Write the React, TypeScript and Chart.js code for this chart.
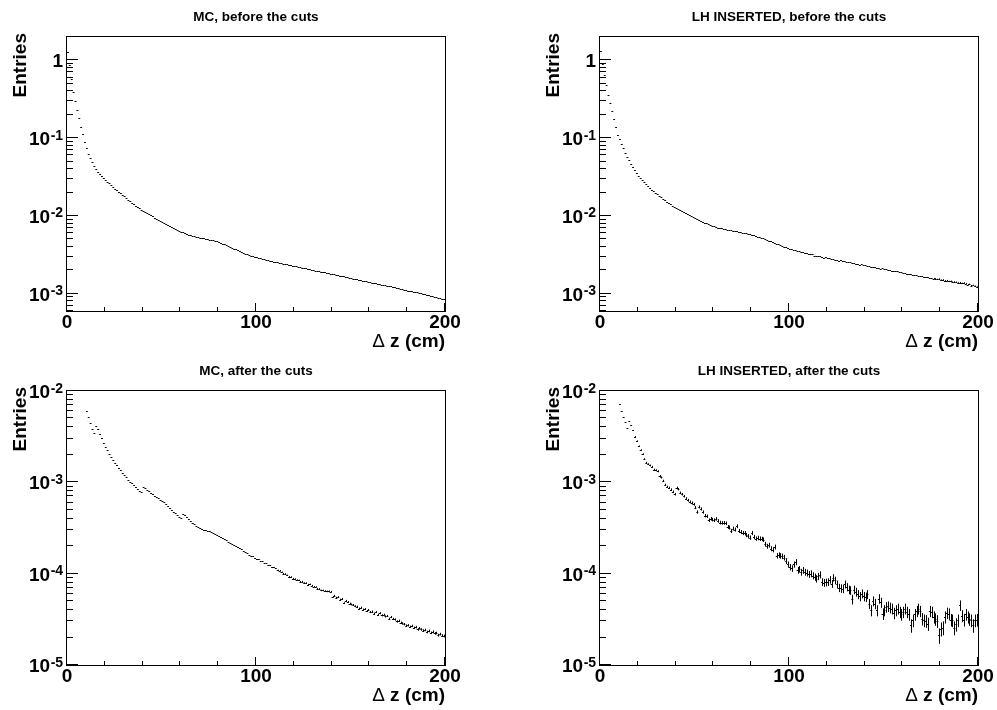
import React, { useEffect, useRef } from "react";
import { Chart, registerables } from "chart.js";

Chart.register(...registerables);

// ---------------- data ----------------
const X_MIN_CM = 0;
const X_MAX_CM = 200;
const BIN_WIDTH_CM = 1;
const X_MINOR_STEP = 20;
const X_MAJOR_STEP = 100;
const X_TICK_VALUES = [0, 100, 200];
const X_TICK_LABELS = ["0", "100", "200"];
const X_TITLE_SYMBOL = "\u0394";
const X_TITLE_REST = " z (cm)";
const Y_TITLE = "Entries";

const TITLES = [
  "MC, before the cuts",
  "LH INSERTED, before the cuts",
  "MC, after the cuts",
  "LH INSERTED, after the cuts",
];

const Y_RANGE_BEFORE = [6e-4, 2];
const Y_RANGE_AFTER = [1e-5, 1e-2];
const Y_DECADES_BEFORE = [0, -1, -2, -3];
const Y_DECADES_AFTER = [-2, -3, -4, -5];

// weight of one entry (sets the size of the statistical error bars)
const ENTRY_WEIGHT = [1e-8, 5e-7, 2.5e-8, 7.7e-7];

// one value per 1 cm bin, bins 0..199
const mcBefore = [
  1.30, 0.87, 0.569, 0.398, 0.302, 0.232, 0.180, 0.141, 0.112, 0.0902,
  0.0741, 0.0631, 0.0550, 0.0490, 0.0442, 0.0403, 0.0372, 0.0347, 0.0325, 0.0307,
  0.0290, 0.0275, 0.0262, 0.0249, 0.0237, 0.0225, 0.0215, 0.0205, 0.0195, 0.0186,
  0.0178, 0.0170, 0.0162, 0.0155, 0.0148, 0.0141, 0.0136, 0.0130, 0.0125, 0.0120,
  0.0116, 0.0112, 0.0109, 0.0105, 0.0102, 0.00985, 0.00955, 0.00927, 0.00899, 0.00872,
  0.00846, 0.00819, 0.00793, 0.00768, 0.00743, 0.00719, 0.00700, 0.00681, 0.00663, 0.00645,
  0.00628, 0.00615, 0.00602, 0.00589, 0.00577, 0.00565, 0.00557, 0.00549, 0.00542, 0.00534,
  0.00527, 0.00521, 0.00515, 0.00509, 0.00503, 0.00498, 0.00491, 0.00484, 0.00478, 0.00471,
  0.00465, 0.00453, 0.00442, 0.00431, 0.00420, 0.00410, 0.00400, 0.00390, 0.00380, 0.00371,
  0.00361, 0.00353, 0.00345, 0.00337, 0.00329, 0.00322, 0.00316, 0.00310, 0.00305, 0.00299,
  0.00294, 0.00289, 0.00285, 0.00280, 0.00276, 0.00271, 0.00268, 0.00265, 0.00262, 0.00259,
  0.00256, 0.00253, 0.00250, 0.00247, 0.00244, 0.00241, 0.00238, 0.00235, 0.00233, 0.00230,
  0.00227, 0.00225, 0.00222, 0.00219, 0.00217, 0.00214, 0.00212, 0.00209, 0.00207, 0.00204,
  0.00202, 0.00199, 0.00197, 0.00195, 0.00192, 0.00190, 0.00188, 0.00186, 0.00183, 0.00181,
  0.00179, 0.00177, 0.00175, 0.00173, 0.00171, 0.00169, 0.00167, 0.00165, 0.00163, 0.00161,
  0.00159, 0.00157, 0.00155, 0.00153, 0.00151, 0.00150, 0.00148, 0.00146, 0.00144, 0.00143,
  0.00141, 0.00139, 0.00138, 0.00136, 0.00134, 0.00133, 0.00131, 0.00130, 0.00128, 0.00127,
  0.00125, 0.00124, 0.00122, 0.00121, 0.00119, 0.00118, 0.00116, 0.00115, 0.00113, 0.00112,
  0.00110, 0.00109, 0.00108, 0.00106, 0.00105, 0.00104, 0.00102, 0.00101, 0.00100, 0.000985,
  0.000972, 0.000958, 0.000944, 0.000930, 0.000916, 0.000902, 0.000890, 0.000878, 0.000866, 0.000855,
];

const lhBefore = [
  1.32, 0.89, 0.645, 0.479, 0.363, 0.285, 0.226, 0.176, 0.138, 0.110,
  0.0966, 0.0841, 0.0738, 0.0652, 0.0579, 0.0519, 0.0468, 0.0425, 0.0388, 0.0357,
  0.0331, 0.0308, 0.0288, 0.0271, 0.0256, 0.0242, 0.0230, 0.0218, 0.0208, 0.0199,
  0.0190, 0.0182, 0.0174, 0.0167, 0.0160, 0.0153, 0.0148, 0.0142, 0.0136, 0.0132,
  0.0127, 0.0123, 0.0119, 0.0115, 0.0112, 0.0109, 0.0105, 0.0102, 0.00993, 0.00964,
  0.00935, 0.00908, 0.00881, 0.00861, 0.00841, 0.00820, 0.00802, 0.00783, 0.00766, 0.00748,
  0.00735, 0.00712, 0.00709, 0.00694, 0.00693, 0.00680, 0.00679, 0.00662, 0.00661, 0.00655,
  0.00641, 0.00640, 0.00635, 0.00620, 0.00619, 0.00612, 0.00598, 0.00600, 0.00584, 0.00582,
  0.00566, 0.00564, 0.00555, 0.00538, 0.00539, 0.00521, 0.00518, 0.00503, 0.00497, 0.00480,
  0.00476, 0.00458, 0.00454, 0.00437, 0.00434, 0.00418, 0.00415, 0.00401, 0.00400, 0.00393,
  0.00380, 0.00378, 0.00366, 0.00364, 0.00353, 0.00352, 0.00343, 0.00343, 0.00332, 0.00333,
  0.00323, 0.00323, 0.00320, 0.00310, 0.00310, 0.00302, 0.00304, 0.00296, 0.00292, 0.00294,
  0.00284, 0.00286, 0.00279, 0.00280, 0.00272, 0.00274, 0.00266, 0.00268, 0.00261, 0.00263,
  0.00256, 0.00253, 0.00254, 0.00248, 0.00249, 0.00242, 0.00244, 0.00236, 0.00239, 0.00232,
  0.00234, 0.00227, 0.00229, 0.00222, 0.00224, 0.00219, 0.00215, 0.00217, 0.00210, 0.00212,
  0.00206, 0.00207, 0.00201, 0.00202, 0.00199, 0.00195, 0.00194, 0.00195, 0.00189, 0.00190,
  0.00186, 0.00186, 0.00181, 0.00182, 0.00179, 0.00176, 0.00174, 0.00175, 0.00170, 0.00171,
  0.00167, 0.00166, 0.00163, 0.00164, 0.00160, 0.00160, 0.00157, 0.00156, 0.00153, 0.00155,
  0.00150, 0.00151, 0.00147, 0.00148, 0.00144, 0.00145, 0.00141, 0.00142, 0.00141, 0.00138,
  0.00139, 0.00136, 0.00138, 0.00135, 0.00131, 0.00132, 0.00127, 0.00128, 0.00125, 0.00122,
];

const mcAfter = [
  null, null, null, null, null, null, null, null, null, null,
  6.03e-3, 5.13e-3, 4.42e-3, 3.80e-3, 3.47e-3, 4.12e-3, 3.80e-3, 3.39e-3, 3.02e-3, 2.69e-3,
  2.45e-3, 2.24e-3, 2.04e-3, 1.91e-3, 1.76e-3, 1.64e-3, 1.53e-3, 1.43e-3, 1.35e-3, 1.27e-3,
  1.20e-3, 1.135e-3, 1.07e-3, 1.02e-3, 9.77e-4, 9.33e-4, 8.81e-4, 8.41e-4, 7.94e-4, 7.76e-4,
  8.91e-4, 8.71e-4, 8.22e-4, 7.94e-4, 7.67e-4, 7.41e-4, 7.16e-4, 6.92e-4, 6.68e-4, 6.46e-4,
  6.24e-4, 6.03e-4, 5.75e-4, 5.50e-4, 5.25e-4, 5.01e-4, 4.79e-4, 4.57e-4, 4.42e-4, 4.22e-4,
  4.07e-4, 4.47e-4, 4.37e-4, 4.17e-4, 3.98e-4, 3.80e-4, 3.63e-4, 3.47e-4, 3.35e-4, 3.24e-4,
  3.13e-4, 3.05e-4, 3.02e-4, 2.99e-4, 2.95e-4, 2.92e-4, 2.85e-4, 2.79e-4, 2.72e-4, 2.66e-4,
  2.57e-4, 2.51e-4, 2.45e-4, 2.40e-4, 2.32e-4, 2.24e-4, 2.16e-4, 2.11e-4, 2.04e-4, 2.00e-4,
  1.95e-4, 1.91e-4, 1.84e-4, 1.78e-4, 1.72e-4, 1.68e-4, 1.62e-4, 1.58e-4, 1.55e-4, 1.50e-4,
  1.46e-4, 1.44e-4, 1.38e-4, 1.36e-4, 1.31e-4, 1.31e-4, 1.25e-4, 1.24e-4, 1.18e-4, 1.17e-4,
  1.14e-4, 1.09e-4, 1.08e-4, 1.04e-4, 1.00e-4, 9.95e-5, 9.60e-5, 9.25e-5, 9.20e-5, 8.85e-5,
  8.75e-5, 8.50e-5, 8.45e-5, 8.15e-5, 8.20e-5, 7.90e-5, 7.90e-5, 7.60e-5, 7.65e-5, 7.40e-5,
  7.20e-5, 7.15e-5, 6.85e-5, 6.80e-5, 6.55e-5, 6.55e-5, 6.45e-5, 6.40e-5, 6.40e-5, 6.35e-5,
  5.60e-5, 5.75e-5, 5.45e-5, 5.55e-5, 5.20e-5, 5.30e-5, 4.75e-5, 5.05e-5, 4.90e-5, 4.70e-5,
  4.60e-5, 4.55e-5, 4.40e-5, 4.35e-5, 4.15e-5, 4.25e-5, 4.05e-5, 4.10e-5, 3.90e-5, 4.00e-5,
  3.80e-5, 3.85e-5, 3.65e-5, 3.80e-5, 3.55e-5, 3.70e-5, 3.50e-5, 3.55e-5, 3.40e-5, 3.45e-5,
  3.20e-5, 3.35e-5, 3.20e-5, 3.15e-5, 3.00e-5, 3.05e-5, 2.90e-5, 2.85e-5, 2.80e-5, 2.70e-5,
  2.72e-5, 2.62e-5, 2.68e-5, 2.55e-5, 2.60e-5, 2.45e-5, 2.52e-5, 2.45e-5, 2.38e-5, 2.42e-5,
  2.30e-5, 2.36e-5, 2.25e-5, 2.32e-5, 2.22e-5, 2.24e-5, 2.12e-5, 2.18e-5, 2.10e-5, 2.08e-5,
];

const lhAfter = [
  null, null, null, null, null, null, null, null, null, null,
  7.20e-3, 6.04e-3, 5.14e-3, 4.53e-3, 3.89e-3, 4.73e-3, 4.24e-3, 3.73e-3, 3.16e-3, 2.83e-3,
  2.49e-3, 2.26e-3, 2.04e-3, 1.80e-3, 1.64e-3, 1.58e-3, 1.53e-3, 1.48e-3, 1.38e-3, 1.36e-3,
  1.32e-3, 1.17e-3, 1.13e-3, 1.04e-3, 9.39e-4, 8.93e-4, 8.71e-4, 8.34e-4, 7.87e-4, 7.41e-4,
  8.71e-4, 8.41e-4, 7.67e-4, 7.41e-4, 7.05e-4, 6.65e-4, 6.37e-4, 6.11e-4, 5.96e-4, 5.75e-4,
  5.30e-4, 4.74e-4, 5.38e-4, 5.12e-4, 4.74e-4, 4.32e-4, 4.25e-4, 3.85e-4, 4.01e-4, 3.91e-4,
  3.85e-4, 3.98e-4, 3.78e-4, 3.63e-4, 3.60e-4, 3.60e-4, 3.56e-4, 3.25e-4, 3.20e-4, 2.94e-4,
  3.12e-4, 3.04e-4, 3.31e-4, 2.94e-4, 2.86e-4, 2.79e-4, 2.79e-4, 2.65e-4, 2.57e-4, 2.48e-4,
  2.79e-4, 2.52e-4, 2.42e-4, 2.46e-4, 2.42e-4, 2.40e-4, 2.36e-4, 2.10e-4, 2.00e-4, 2.05e-4,
  1.88e-4, 1.83e-4, 1.96e-4, 1.57e-4, 1.60e-4, 1.57e-4, 1.55e-4, 1.50e-4, 1.38e-4, 1.26e-4,
  1.18e-4, 1.14e-4, 1.26e-4, 1.34e-4, 1.09e-4, 1.12e-4, 1.04e-4, 1.09e-4, 1.04e-4, 1.02e-4,
  9.84e-5, 1.00e-4, 9.51e-5, 9.19e-5, 8.81e-5, 9.35e-5, 9.75e-5, 8.11e-5, 7.96e-5, 8.03e-5,
  8.11e-5, 8.59e-5, 7.76e-5, 9.03e-5, 8.45e-5, 7.64e-5, 7.02e-5, 6.90e-5, 6.84e-5, 7.64e-5,
  7.14e-5, 6.67e-5, 6.56e-5, 5.23e-5, 6.67e-5, 6.29e-5, 5.93e-5, 5.64e-5, 6.04e-5, 5.64e-5,
  5.55e-5, 5.93e-5, 4.69e-5, 3.96e-5, 5.01e-5, 4.69e-5, 3.96e-5, 5.32e-5, 4.84e-5, 3.64e-5,
  3.96e-5, 4.31e-5, 4.38e-5, 4.24e-5, 4.13e-5, 3.70e-5, 3.96e-5, 4.13e-5, 3.80e-5, 3.58e-5,
  3.80e-5, 4.13e-5, 3.80e-5, 3.58e-5, 2.71e-5, 3.08e-5, 3.58e-5, 3.89e-5, 4.13e-5, 3.89e-5,
  3.21e-5, 3.08e-5, 3.03e-5, 2.83e-5, 3.89e-5, 3.80e-5, 3.35e-5, 3.18e-5, 3.03e-5, 2.11e-5,
  2.49e-5, 2.56e-5, 3.35e-5, 3.71e-5, 3.64e-5, 3.13e-5, 3.08e-5, 2.56e-5, 2.78e-5, 3.08e-5,
  4.50e-5, 3.46e-5, 3.13e-5, 3.58e-5, 3.35e-5, 3.18e-5, 3.08e-5, 2.71e-5, 3.08e-5, 3.13e-5,
];

// ---------------- layout ----------------
const FONT = '"Liberation Sans", Arial, Helvetica, sans-serif';

type Panel = {
  title: string;
  values: (number | null)[];
  weight: number;
  yRange: number[];
  decades: number[];
  canvas: { left: number; top: number; w: number; h: number };
  pad: { left: number; top: number; right: number; bottom: number };
};

const PANELS: Panel[] = [
  {
    title: TITLES[0], values: mcBefore, weight: ENTRY_WEIGHT[0], yRange: Y_RANGE_BEFORE, decades: Y_DECADES_BEFORE,
    canvas: { left: 0, top: 0, w: 498, h: 355 }, pad: { left: 67, top: 37, right: 53, bottom: 44 },
  },
  {
    title: TITLES[1], values: lhBefore, weight: ENTRY_WEIGHT[1], yRange: Y_RANGE_BEFORE, decades: Y_DECADES_BEFORE,
    canvas: { left: 498, top: 0, w: 499, h: 355 }, pad: { left: 102, top: 37, right: 19, bottom: 44 },
  },
  {
    title: TITLES[2], values: mcAfter, weight: ENTRY_WEIGHT[2], yRange: Y_RANGE_AFTER, decades: Y_DECADES_AFTER,
    canvas: { left: 0, top: 355, w: 498, h: 355 }, pad: { left: 67, top: 36, right: 53, bottom: 45 },
  },
  {
    title: TITLES[3], values: lhAfter, weight: ENTRY_WEIGHT[3], yRange: Y_RANGE_AFTER, decades: Y_DECADES_AFTER,
    canvas: { left: 498, top: 355, w: 499, h: 355 }, pad: { left: 102, top: 36, right: 19, bottom: 45 },
  },
];

function makeHistPlugin(p: Panel) {
  return {
    id: "rootHist",
    afterDatasetsDraw(chart: any) {
      const { ctx, chartArea: a, scales } = chart;
      const xs = scales.x;
      const ys = scales.y;
      const data = chart.data.datasets[0].data as { x: number; y: number }[];
      ctx.save();
      ctx.beginPath();
      ctx.rect(a.left, a.top, a.right - a.left, a.bottom - a.top);
      ctx.clip();
      ctx.strokeStyle = "#000";
      ctx.lineWidth = 1;
      ctx.beginPath();
      for (const d of data) {
        const x0 = xs.getPixelForValue(d.x - BIN_WIDTH_CM / 2);
        const x1 = xs.getPixelForValue(d.x + BIN_WIDTH_CM / 2);
        const y = Math.round(ys.getPixelForValue(d.y)) + 0.5;
        ctx.moveTo(x0, y);
        ctx.lineTo(x1, y);
        const e = Math.sqrt(d.y * p.weight);
        const yh = ys.getPixelForValue(d.y + e);
        const yl = ys.getPixelForValue(Math.max(d.y - e, 1e-12));
        if (yl - yh > 1.2) {
          const xc = Math.round(xs.getPixelForValue(d.x)) + 0.5;
          ctx.moveTo(xc, yh);
          ctx.lineTo(xc, yl);
        }
      }
      ctx.stroke();
      ctx.restore();
    },
  };
}

function makeFramePlugin(p: Panel) {
  return {
    id: "rootFrame",
    afterDraw(chart: any) {
      const { ctx, chartArea: a, scales } = chart;
      const xs = scales.x;
      const ys = scales.y;
      ctx.save();
      ctx.strokeStyle = "#000";
      ctx.lineWidth = 1;
      ctx.strokeRect(a.left - 0.5, a.top - 0.5, a.right - a.left + 1, a.bottom - a.top + 1);

      ctx.beginPath();
      for (let v = X_MIN_CM; v <= X_MAX_CM; v += X_MINOR_STEP) {
        const x = Math.round(xs.getPixelForValue(v)) - 0.5;
        const len = v % X_MAJOR_STEP === 0 ? 8 : 4;
        ctx.moveTo(x, a.bottom);
        ctx.lineTo(x, a.bottom - len);
      }
      const [ymin, ymax] = p.yRange;
      const k0 = Math.floor(Math.log10(ymin)) - 1;
      const k1 = Math.ceil(Math.log10(ymax)) + 1;
      for (let k = k0; k <= k1; k++) {
        for (let m = 1; m <= 9; m++) {
          const v = m * Math.pow(10, k);
          if (v < ymin * 0.999 || v > ymax * 1.001) continue;
          const y = Math.round(ys.getPixelForValue(v)) - 0.5;
          const len = m === 1 ? 11 : 6;
          ctx.moveTo(a.left, y);
          ctx.lineTo(a.left + len, y);
        }
      }
      ctx.stroke();

      ctx.fillStyle = "#000";
      // title
      ctx.font = `bold 13.5px ${FONT}`;
      ctx.textAlign = "center";
      ctx.textBaseline = "alphabetic";
      ctx.fillText(p.title, (a.left + a.right) / 2, a.top - 16);

      // x labels
      ctx.font = `bold 19px ${FONT}`;
      X_TICK_VALUES.forEach((v, i) => {
        ctx.fillText(X_TICK_LABELS[i], xs.getPixelForValue(v), a.bottom + 17);
      });

      // x title
      ctx.font = `bold 19px ${FONT}`;
      const wRest = ctx.measureText(X_TITLE_REST).width;
      ctx.font = `19px ${FONT}`;
      const wSym = ctx.measureText(X_TITLE_SYMBOL).width;
      ctx.textAlign = "left";
      const xStart = a.right - wRest - wSym;
      ctx.fillText(X_TITLE_SYMBOL, xStart, a.bottom + 36);
      ctx.font = `bold 19px ${FONT}`;
      ctx.fillText(X_TITLE_REST, xStart + wSym, a.bottom + 36);

      // y labels
      for (const k of p.decades) {
        const y = ys.getPixelForValue(Math.pow(10, k));
        ctx.font = `bold 19px ${FONT}`;
        if (k === 0) {
          ctx.textAlign = "right";
          ctx.fillText("1", a.left - 4, y + 7);
        } else {
          ctx.textAlign = "left";
          const x0 = a.left - 38;
          ctx.fillText("10", x0, y + 7);
          const w10 = ctx.measureText("10").width;
          ctx.font = `bold 14px ${FONT}`;
          ctx.fillText(String(k), x0 + w10 + 0.5, y + 1.5);
        }
      }

      // y title
      ctx.save();
      ctx.translate(a.left - 41, a.top - 4);
      ctx.rotate(-Math.PI / 2);
      ctx.font = `bold 19px ${FONT}`;
      ctx.textAlign = "right";
      ctx.fillText(Y_TITLE, 0, 0);
      ctx.restore();

      ctx.restore();
    },
  };
}

function HistPanel({ p }: { p: Panel }) {
  const ref = useRef<HTMLCanvasElement>(null);
  useEffect(() => {
    const canvas = ref.current!;
    const points = p.values
      .map((v, i) => (v == null ? null : { x: X_MIN_CM + (i + 0.5) * BIN_WIDTH_CM, y: v }))
      .filter((d) => d !== null) as { x: number; y: number }[];
    const chart = new Chart(canvas, {
      type: "scatter",
      data: {
        datasets: [
          {
            data: points,
            showLine: false,
            pointRadius: 0,
            pointHoverRadius: 0,
            borderColor: "#000",
            backgroundColor: "#000",
          },
        ],
      },
      options: {
        animation: false,
        responsive: false,
        maintainAspectRatio: false,
        devicePixelRatio: 1,
        events: [],
        layout: { padding: p.pad },
        plugins: {
          legend: { display: false },
          tooltip: { enabled: false },
          title: { display: false },
        },
        scales: {
          x: { type: "linear", min: X_MIN_CM, max: X_MAX_CM, display: false },
          y: { type: "logarithmic", min: p.yRange[0], max: p.yRange[1], display: false },
        },
      },
      plugins: [makeHistPlugin(p), makeFramePlugin(p)],
    } as any);
    return () => chart.destroy();
  }, [p]);
  return (
    <canvas
      ref={ref}
      width={p.canvas.w}
      height={p.canvas.h}
      style={{
        position: "absolute",
        left: p.canvas.left,
        top: p.canvas.top,
        width: p.canvas.w,
        height: p.canvas.h,
      }}
    />
  );
}

export default function App() {
  return (
    <div
      style={{
        position: "absolute",
        left: 0,
        top: 0,
        width: 997,
        height: 710,
        background: "#fff",
        overflow: "hidden",
      }}
    >
      {PANELS.map((p, i) => (
        <HistPanel key={i} p={p} />
      ))}
    </div>
  );
}
